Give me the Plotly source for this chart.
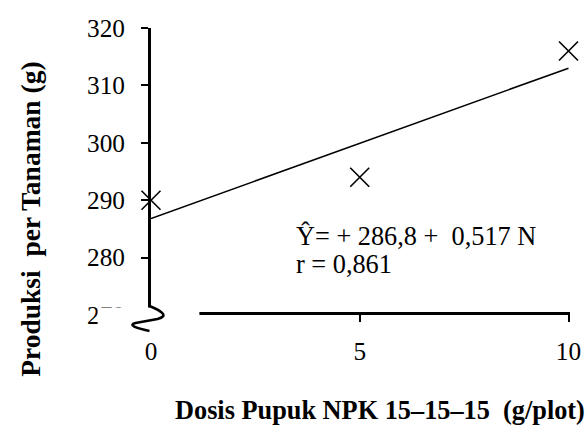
import plotly.graph_objects as go

# Data
dose = [0, 5, 10]
production = [290, 294, 316]
fit_x = [0, 10]
fit_y = [286.8, 313.0]
x_ticks = [0, 5, 10]
y_ticks = [270, 280, 290, 300, 310, 320]

KX = 593 / 585          # horizontal compensation of the capture
W, H = 593, 432
L_S, T = 148.5, 28      # screen px
PW_S = 420
BOT_S = 336             # bottom of plotting area (screen px)
XAX_S = 313             # x axis line position (screen px)
PH = BOT_S - T
L = L_S * KX
PW = PW_S * KX
R = W - L - PW
B = H - BOT_S
YSCALE = 5.74           # px per unit (screen)
XSCALE = 41.85          # px per unit (screen)


def px(s):
    return (s * KX - L) / PW


def py(s):
    return (BOT_S - s) / PH


FONT = "Liberation Serif, Times New Roman, serif"

fig = go.Figure()
fig.add_trace(go.Scatter(x=fit_x, y=fit_y, mode="lines",
                         line=dict(color="black", width=1.6),
                         hoverinfo="skip", showlegend=False))
fig.add_trace(go.Scatter(x=dose, y=production, mode="markers",
                         marker=dict(symbol="x-thin", size=19,
                                     line=dict(width=1.6, color="black"),
                                     color="black"),
                         cliponaxis=False, showlegend=False))

# white cover for axis break and squiggle
fig.add_shape(type="rect", xref="paper", yref="paper",
              x0=px(95), x1=px(197), y0=py(340), y1=py(307.5),
              fillcolor="white", line=dict(width=0), layer="above")
pts = [(147, 306), (159, 311), (167, 316), (155, 319), (133, 323),
       (125, 325), (133, 328), (147, 331)]
p = [(px(a), py(b)) for a, b in pts]
path = ("M{:.4f},{:.4f} C{:.4f},{:.4f} {:.4f},{:.4f} {:.4f},{:.4f} "
        "L{:.4f},{:.4f} C{:.4f},{:.4f} {:.4f},{:.4f} {:.4f},{:.4f}").format(
    *[c for pt in p for c in pt])
fig.add_shape(type="path", xref="paper", yref="paper", path=path,
              line=dict(color="black", width=2.6), layer="above")

fig.add_annotation(x=px(292), y=py(236), xref="paper", yref="paper",
                   text="Ŷ= + 286,8 +\u00a0\u00a00,517 N", showarrow=False,
                   xanchor="left", yanchor="middle",
                   font=dict(family=FONT, size=26.3, color="black"))
fig.add_annotation(x=px(292), y=py(264), xref="paper", yref="paper",
                   text="r = 0,861", showarrow=False,
                   xanchor="left", yanchor="middle",
                   font=dict(family=FONT, size=26.3, color="black"))

fig.add_annotation(x=px(378), y=py(410), xref="paper", yref="paper",
                   text="<b>Dosis Pupuk NPK 15–15–15\u00a0\u00a0(g/plot)</b>",
                   showarrow=False, xanchor="center", yanchor="middle",
                   font=dict(family=FONT, size=26.3, color="black"))
fig.add_annotation(x=px(27), y=py(219), xref="paper", yref="paper",
                   text="<b>Produksi\u00a0\u00a0per Tanaman (g)</b>",
                   showarrow=False, textangle=-90,
                   xanchor="center", yanchor="middle",
                   font=dict(family=FONT, size=27.5, color="black"))

fig.update_layout(
    width=W, height=H,
    margin=dict(l=L, r=R, t=T, b=B, pad=0),
    plot_bgcolor="white", paper_bgcolor="white",
    font=dict(family=FONT, size=25, color="black"),
    showlegend=False,
)
fig.update_xaxes(range=[0, PW_S / XSCALE], tickvals=x_ticks, ticks="outside",
                 ticklen=7, tickwidth=2, tickcolor="black",
                 anchor="free", position=py(XAX_S),
                 showline=True, linewidth=3, linecolor="black",
                 showgrid=False, zeroline=False, ticklabelstandoff=8,
                 tickfont=dict(family=FONT, size=25.3, color="black"))
fig.update_yaxes(range=[320 - PH / YSCALE, 320], tickvals=y_ticks,
                 ticks="outside", ticklen=7, tickwidth=2, tickcolor="black",
                 showline=True, linewidth=3, linecolor="black",
                 showgrid=False, zeroline=False, ticklabelstandoff=11,
                 tickfont=dict(family=FONT, size=25.3, color="black"))

fig.write_html("out.html", config={"displayModeBar": False},
               post_script="document.body.style.margin='0';"
                           "document.body.style.overflow='hidden';")
